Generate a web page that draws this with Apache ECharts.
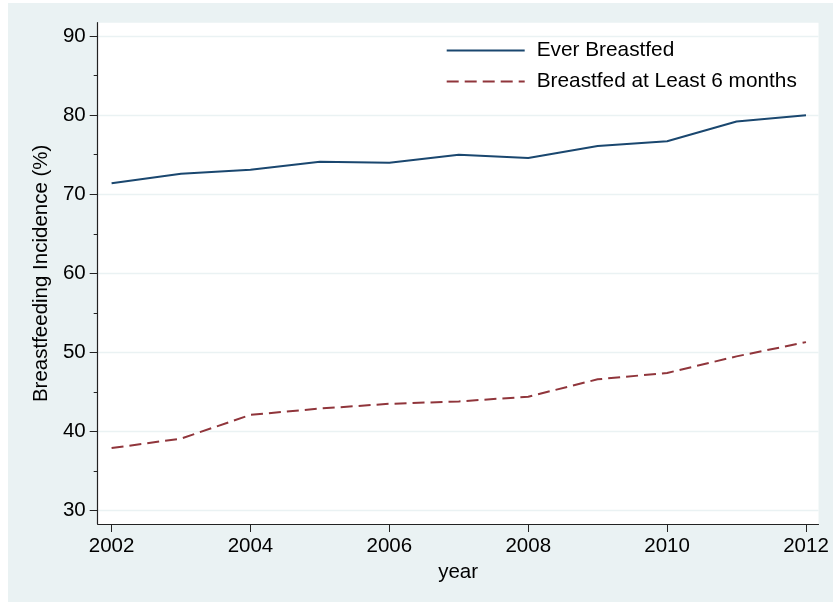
<!DOCTYPE html>
<html>
<head>
<meta charset="utf-8">
<script src="https://cdn.jsdelivr.net/npm/echarts@6/dist/echarts.min.js"></script>
<style>
  html, body { margin: 0; padding: 0; background: #ffffff; }
  #bg { position: absolute; left: 8px; top: 3px; width: 825px; height: 599px; background: #EAF2F3; }
  #chart { position: absolute; left: 0; top: 0; width: 833px; height: 602px; }
</style>
</head>
<body>
<div id="bg"></div>
<div id="chart"></div>
<script>
const years = [2002, 2003, 2004, 2005, 2006, 2007, 2008, 2009, 2010, 2011, 2012];
const everBreastfed = [71.4, 72.6, 73.1, 74.1, 74.0, 75.0, 74.6, 76.1, 76.7, 79.2, 80.0];
const breastfed6Months = [37.9, 39.1, 42.1, 42.9, 43.5, 43.8, 44.4, 46.6, 47.4, 49.5, 51.3];
const xTickLabels = [2002, 2004, 2006, 2008, 2010, 2012];
const yTickLabels = [30, 40, 50, 60, 70, 80, 90];
const yMinorTicks = [35, 45, 55, 65, 75, 85];
const seriesNames = ['Ever Breastfed', 'Breastfed at Least 6 months'];

const FONT = "'Liberation Sans', Arial, Helvetica, sans-serif";
const chart = echarts.init(document.getElementById('chart'), null, { renderer: 'canvas' });

const pairs = (ys) => years.map((x, i) => [x, ys[i]]);

chart.setOption({
  backgroundColor: 'transparent',
  animation: false,
  textStyle: { fontFamily: FONT },
  grid: {
    left: 97.7, top: 22.7, right: 14.5, bottom: 78,
    show: true, backgroundColor: '#ffffff', borderWidth: 0
  },
  legend: {
    orient: 'vertical',
    left: 445.7, top: 40, padding: 0,
    itemWidth: 78, itemHeight: 20, itemGap: 10,
    itemStyle: { opacity: 0, borderWidth: 0 },
    textStyle: { fontFamily: FONT, fontSize: 20.8, color: '#000', padding: [0, 0, 0, 7] },
    data: seriesNames
  },
  xAxis: {
    type: 'value', min: 2001.8, max: 2012.18,
    name: 'year', nameLocation: 'middle', nameGap: 34,
    nameTextStyle: { fontFamily: FONT, fontSize: 20.5, color: '#000' },
    axisLine: { show: true, onZero: false, lineStyle: { color: '#222', width: 1.2 } },
    axisTick: { show: true, length: 8, customValues: xTickLabels, lineStyle: { color: '#222', width: 1 } },
    axisLabel: { customValues: xTickLabels, margin: 12, fontFamily: FONT, fontSize: 20.5, color: '#000',
                 formatter: (v) => String(v) },
    splitLine: { show: false }
  },
  yAxis: [{
    type: 'value', min: 28.3, max: 91.7,
    name: 'Breastfeeding Incidence (%)', nameLocation: 'middle', nameGap: 45,
    nameTextStyle: { fontFamily: FONT, fontSize: 20.5, color: '#000' },
    axisLine: { show: true, onZero: false, lineStyle: { color: '#222', width: 1.2 } },
    axisTick: { show: true, length: 8, customValues: yTickLabels, lineStyle: { color: '#222', width: 1 } },
    axisLabel: { customValues: yTickLabels, margin: 12, fontFamily: FONT, fontSize: 20.5, color: '#000',
                 formatter: (v) => String(v) },
    splitLine: { show: true, lineStyle: { color: '#EAF2F3', width: 1.4 } }
  }, {
    type: 'value', min: 28.3, max: 91.7, position: 'left',
    axisLine: { show: false },
    axisTick: { show: true, length: 4, customValues: yMinorTicks, lineStyle: { color: '#222', width: 1 } },
    axisLabel: { show: false },
    splitLine: { show: false }
  }],
  series: [{
    name: seriesNames[0], type: 'line', data: pairs(everBreastfed),
    symbol: 'none', color: '#1A476F',
    lineStyle: { color: '#1A476F', width: 2 }
  }, {
    name: seriesNames[1], type: 'line', data: pairs(breastfed6Months),
    symbol: 'none', color: '#90353B',
    lineStyle: { color: '#90353B', width: 2, type: [12, 6] }
  }]
});
</script>
</body>
</html>
